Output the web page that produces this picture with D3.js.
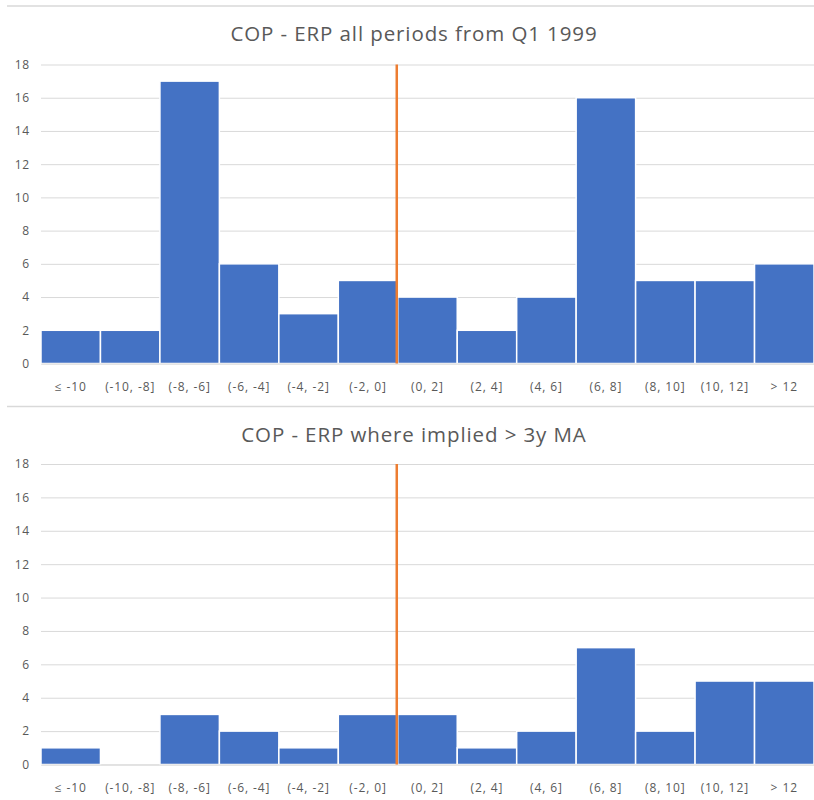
<!DOCTYPE html>
<html><head><meta charset="utf-8">
<script src="https://cdn.jsdelivr.net/npm/d3@7"></script>
<style>body{margin:0;background:#fff}svg{display:block}</style>
</head><body>
<svg id="c" width="814" height="800"></svg>
<script>
const categories = ["≤ -10","(-10, -8]","(-8, -6]","(-6, -4]","(-4, -2]","(-2, 0]","(0, 2]","(2, 4]","(4, 6]","(6, 8]","(8, 10]","(10, 12]","> 12"];
const allPeriods = [2,2,17,6,3,5,4,2,4,16,5,5,6];
const impliedAboveMA = [1,0,3,2,1,3,3,1,2,7,2,5,5];
const yTicks = [0,2,4,6,8,10,12,14,16,18];
const titles = ["COP - ERP all periods from Q1 1999","COP - ERP where implied > 3y MA"];
const zeroCategory = "(0, 2]";

const svg = d3.select("#c");
const font = "'Open Sans', sans-serif";
const panels = [
  {values: allPeriods, title: titles[0], top: 6, yTop: 64.5, yBot: 363.5},
  {values: impliedAboveMA, title: titles[1], top: 406.5, yTop: 464, yBot: 764.5}
];
const x = d3.scaleBand().domain(categories).range([41, 814]).padding(0);

panels.forEach(p => {
  const g = svg.append("g");
  g.append("line").attr("x1",7).attr("x2",814).attr("y1",p.top).attr("y2",p.top)
    .attr("stroke","#d9d9d9").attr("stroke-width",1.5);
  g.append("text").attr("x",414).attr("y",p.top+35).attr("text-anchor","middle")
    .attr("font-family",font).attr("font-size",20.5).attr("letter-spacing",0.9)
    .attr("fill","#595959").text(p.title);
  const y = d3.scaleLinear().domain([0,18]).range([p.yBot,p.yTop]);
  const yAxis = d3.axisLeft(y).tickValues(yTicks).tickSize(-(814-41)).tickPadding(11);
  const ga = g.append("g").attr("transform","translate(41,0)").call(yAxis);
  ga.select(".domain").remove();
  ga.selectAll(".tick line").attr("stroke","#d9d9d9").attr("stroke-width",1);
  ga.selectAll(".tick text").attr("fill","#595959").attr("font-family",font)
    .attr("font-size",12).attr("letter-spacing",0.8);
  g.selectAll("rect.bar").data(categories.map((c,i)=>({c, v:p.values[i]}))).join("rect")
    .attr("class","bar")
    .attr("x", d=>x(d.c)).attr("width", x.bandwidth())
    .attr("y", d=>y(d.v)).attr("height", d=>y(0)-y(d.v))
    .attr("fill","#4472C4").attr("stroke","#fff").attr("stroke-width",1.5);
  const xAxis = d3.axisBottom(x).tickSize(0).tickPadding(19);
  const gx = g.append("g").attr("transform",`translate(0,${p.yBot})`).call(xAxis);
  gx.select(".domain").attr("stroke","#d9d9d9");
  gx.selectAll(".tick text").attr("fill","#595959").attr("font-family",font)
    .attr("font-size",12).attr("letter-spacing",0.9);
  const zx = x(zeroCategory) - 1;
  g.append("line").attr("x1",zx).attr("x2",zx).attr("y1",y(18)).attr("y2",y(0))
    .attr("stroke","#ED7D31").attr("stroke-width",2.5);
});
</script>
</body></html>
